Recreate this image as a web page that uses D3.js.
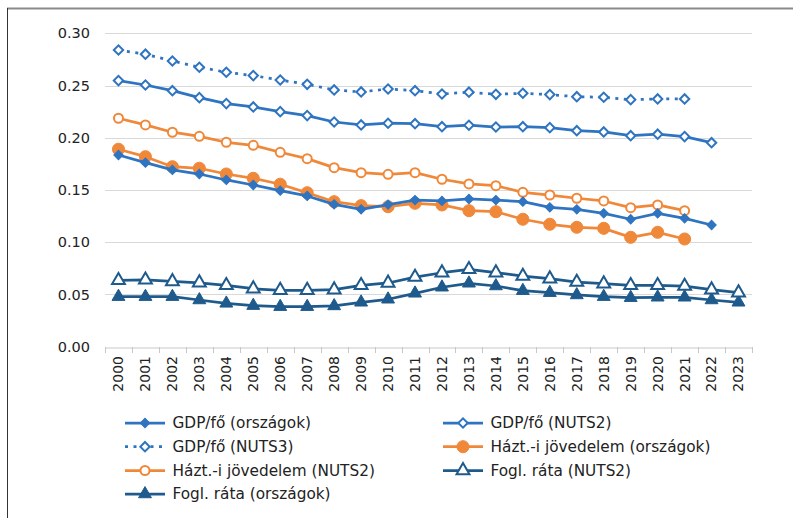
<!DOCTYPE html>
<html>
<head>
<meta charset="utf-8">
<script src="https://cdn.jsdelivr.net/npm/d3@7"></script>
<style>
  body { margin: 0; background: #fff; }
  svg { font-family: "DejaVu Sans", Arial, sans-serif; }
</style>
</head>
<body>
<div id="chart"></div>
<script>
var years = d3.range(2000, 2024).map(String);

var gdpOrszagok = [0.1835, 0.1762, 0.1692, 0.1653, 0.1596, 0.1548, 0.1494, 0.1443, 0.1363, 0.1315, 0.136,
    0.1404, 0.1395, 0.1414, 0.1404, 0.1388, 0.1334, 0.1315, 0.1277, 0.122, 0.1277, 0.1229, 0.1165];
var gdpNuts2 = [0.2547, 0.2505, 0.2451, 0.2384, 0.2327, 0.2295, 0.225, 0.2212, 0.2151, 0.2123, 0.2139,
    0.2135, 0.2106, 0.212, 0.2103, 0.2106, 0.2097, 0.2068, 0.2056, 0.202, 0.2034, 0.2011, 0.1953];
var gdpNuts3 = [0.284, 0.280, 0.2735, 0.2675, 0.2627, 0.2595, 0.2553, 0.2512, 0.2458, 0.2439, 0.2467,
    0.2451, 0.2419, 0.2436, 0.2416, 0.2426, 0.2413, 0.2393, 0.2388, 0.2365, 0.2372, 0.2372];
var haztOrszagok = [0.189, 0.1819, 0.1723, 0.1708, 0.1653, 0.1612, 0.1555, 0.1474, 0.1388, 0.135, 0.134,
    0.1373, 0.1357, 0.1302, 0.1292, 0.122, 0.1172, 0.1143, 0.1133, 0.1047, 0.1095, 0.1031];
var haztNuts2 = [0.2187, 0.2123, 0.2053, 0.2014, 0.1957, 0.1928, 0.1861, 0.18, 0.1714, 0.1666, 0.165,
    0.1666, 0.1603, 0.1558, 0.1541, 0.1478, 0.1452, 0.1421, 0.1395, 0.1331, 0.1357, 0.1302];
var foglNuts2 = [0.0635, 0.064, 0.0625, 0.0612, 0.0587, 0.0555, 0.054, 0.054, 0.0546, 0.0587, 0.061,
    0.0666, 0.0708, 0.074, 0.0708, 0.0676, 0.0651, 0.0618, 0.0603, 0.0587, 0.0587, 0.058, 0.0546, 0.0517];
var foglOrszagok = [0.0479, 0.0479, 0.0479, 0.0447, 0.0415, 0.0393, 0.0383, 0.0383, 0.039, 0.0425, 0.0454,
    0.0511, 0.0569, 0.0607, 0.0581, 0.0536, 0.0517, 0.0495, 0.0479, 0.0469, 0.0473, 0.0473, 0.0447, 0.0425];

var yTicks = [0, 0.05, 0.10, 0.15, 0.20, 0.25, 0.30];

var blue = "#2f74c0", orange = "#f0883a", navy = "#1f5a8c";

// series in Excel legend order
var series = [
    {name: "GDP/fő (országok)", values: gdpOrszagok, color: blue, marker: "diamond", filled: true},
    {name: "GDP/fő (NUTS2)", values: gdpNuts2, color: blue, marker: "diamond", filled: false},
    {name: "GDP/fő (NUTS3)", values: gdpNuts3, color: blue, marker: "diamond", filled: false, dotted: true},
    {name: "Házt.-i jövedelem (országok)", values: haztOrszagok, color: orange, marker: "circleBig", filled: true},
    {name: "Házt.-i jövedelem (NUTS2)", values: haztNuts2, color: orange, marker: "circle", filled: false},
    {name: "Fogl. ráta (NUTS2)", values: foglNuts2, color: navy, marker: "triangle", filled: false},
    {name: "Fogl. ráta (országok)", values: foglOrszagok, color: navy, marker: "triangle", filled: true}
];

var W = 793, H = 518;
var svg = d3.select("#chart").append("svg")
    .attr("width", W)
    .attr("height", H);

// frame of the clipped figure
svg.append("line").attr("x1", 7).attr("x2", W).attr("y1", 8.5).attr("y2", 8.5)
    .attr("stroke", "#8a8a8a").attr("stroke-width", 2);
svg.append("line").attr("x1", 7.5).attr("x2", 7.5).attr("y1", 8).attr("y2", H)
    .attr("stroke", "#333").attr("stroke-width", 1);

var x = d3.scaleBand()
    .domain(years)
    .range([105, 752]);

var y = d3.scaleLinear()
    .domain([0, 0.30])
    .range([346.7, 33.3]);

// gridlines
svg.append("g")
    .selectAll("line")
    .data(yTicks.slice(1))
    .enter().append("line")
    .attr("x1", 105).attr("x2", 752)
    .attr("y1", function (d) { return Math.round(y(d)) + 0.5; })
    .attr("y2", function (d) { return Math.round(y(d)) + 0.5; })
    .attr("stroke", "#d9d9d9")
    .attr("stroke-width", 1);

// y axis labels
svg.append("g")
    .selectAll("text")
    .data(yTicks)
    .enter().append("text")
    .attr("x", 90)
    .attr("y", function (d) { return y(d); })
    .attr("dy", "0.35em")
    .attr("text-anchor", "end")
    .attr("font-size", "14.5px")
    .attr("fill", "#222")
    .text(function (d) { return d3.format(".2f")(d); });

// x axis
var xAxis = svg.append("g")
    .attr("transform", "translate(0," + (Math.round(y(0)) + 0.5) + ")")
    .call(d3.axisBottom(x).tickSize(0).tickFormat(""));
xAxis.select(".domain").attr("stroke", "#c8c8c8").attr("stroke-width", 1);
xAxis.selectAll(".tick").remove();

svg.append("g")
    .selectAll("line")
    .data(years.concat(["end"]))
    .enter().append("line")
    .attr("x1", function (d, i) { return Math.round(105 + i * x.step()) + 0.5; })
    .attr("x2", function (d, i) { return Math.round(105 + i * x.step()) + 0.5; })
    .attr("y1", Math.round(y(0)))
    .attr("y2", Math.round(y(0)) + 6)
    .attr("stroke", "#c8c8c8");

svg.append("g")
    .selectAll("text")
    .data(years)
    .enter().append("text")
    .attr("transform", function (d) {
        return "translate(" + (x(d) + x.bandwidth() / 2) + "," + 356 + ") rotate(-90)";
    })
    .attr("dy", "0.35em")
    .attr("text-anchor", "end")
    .attr("font-size", "14px")
    .attr("fill", "#222")
    .text(function (d) { return d; });

// marker drawing helper
function drawMarker(g, m, color, filled) {
    var sym;
    if (m === "diamond") sym = d3.symbol().type(d3.symbolSquare).size(44);
    else if (m === "circleBig") sym = d3.symbol().type(d3.symbolCircle).size(115);
    else if (m === "circle") sym = d3.symbol().type(d3.symbolCircle).size(64);
    else sym = d3.symbol().type(d3.symbolTriangle).size(72);
    var p = g.append("path")
        .attr("d", sym())
        .attr("fill", filled ? color : "#fff")
        .attr("stroke", color)
        .attr("stroke-width", filled ? 1 : 2);
    if (m === "diamond") p.attr("transform", "rotate(45)");
    return p;
}

var line = d3.line()
    .x(function (d, i) { return x(years[i]) + x.bandwidth() / 2; })
    .y(function (d) { return y(d); });

// draw from last to first so the first series ends on top
series.slice().reverse().forEach(function (s) {
    var g = svg.append("g");
    g.append("path")
        .datum(s.values)
        .attr("d", line)
        .attr("fill", "none")
        .attr("stroke", s.color)
        .attr("stroke-width", 2.75)
        .attr("stroke-linejoin", "round")
        .attr("stroke-linecap", s.dotted ? "butt" : "round")
        .attr("stroke-dasharray", s.dotted ? "3,5.5" : null);
    s.values.forEach(function (v, i) {
        var mg = g.append("g")
            .attr("transform", "translate(" + (x(years[i]) + x.bandwidth() / 2) + "," + y(v) + ")");
        drawMarker(mg, s.marker, s.color, s.filled);
    });
});

// legend: two columns, row-major order
var legendCols = [125, 443];
var legendRows = [423, 446.7, 470.5, 494];
var leg = svg.append("g");
series.forEach(function (s, i) {
    var cx = legendCols[i % 2], cy = legendRows[Math.floor(i / 2)];
    var g = leg.append("g").attr("transform", "translate(" + cx + "," + cy + ")");
    g.append("line")
        .attr("x1", 0).attr("x2", 40)
        .attr("stroke", s.color)
        .attr("stroke-width", 2.75)
        .attr("stroke-dasharray", s.dotted ? "3,5.5" : null);
    var mg = g.append("g").attr("transform", "translate(20,0)");
    drawMarker(mg, s.marker, s.color, s.filled);
    g.append("text")
        .attr("x", 47.5)
        .attr("dy", "0.35em")
        .attr("font-size", "15.3px")
        .attr("fill", "#222")
        .text(s.name);
});
</script>
</body>
</html>
